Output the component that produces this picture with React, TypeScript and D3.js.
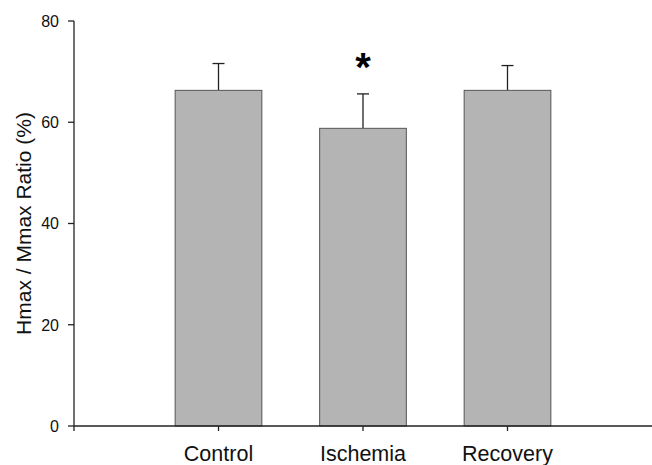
import React from "react";
import * as d3 from "d3";

const categories = ["Control", "Ischemia", "Recovery"];
const means = [66.3, 58.8, 66.3];
const errors = [5.3, 6.8, 4.9];
const significant = [false, true, false];
const yTicks = [0, 20, 40, 60, 80];

const W = 652;
const H = 465;
const margin = { top: 21, right: 0, bottom: 39, left: 74 };

export default function App() {
  const x = d3.scaleLinear().domain([0, 4]).range([margin.left, W - margin.right]);
  const y = d3.scaleLinear().domain([0, 80]).range([H - margin.bottom, margin.top]);
  const barW = x(0.6) - x(0);
  const capW = 12;
  const font = "'Liberation Sans', Arial, sans-serif";

  return (
    <svg width={W} height={H} style={{ position: "absolute", left: 0, top: 0, background: "#fff" }}>
      {categories.map((c, i) => {
        const cx = x(i + 1);
        const top = y(means[i] + errors[i]);
        return (
          <g key={c}>
            <line x1={cx} x2={cx} y1={y(means[i])} y2={top} stroke="#222" strokeWidth={1.3} />
            <line x1={cx - capW / 2} x2={cx + capW / 2} y1={top} y2={top} stroke="#222" strokeWidth={1.3} />
            <rect
              x={cx - barW / 2}
              y={y(means[i])}
              width={barW}
              height={y(0) - y(means[i])}
              fill="#b4b4b4"
              stroke="#555"
              strokeWidth={1}
            />
            {significant[i] && (
              <text x={cx} y={top - 13} textAnchor="middle" fontFamily={font} fontWeight="bold" fontSize={40}>
                *
              </text>
            )}
            <line x1={cx} x2={cx} y1={y(0)} y2={y(0) + 5} stroke="#222" strokeWidth={1.3} />
            <text x={cx} y={461} textAnchor="middle" fontFamily={font} fontSize={21.5} fill="#111">
              {c}
            </text>
          </g>
        );
      })}
      {/* y axis */}
      <line x1={margin.left} x2={margin.left} y1={y(80)} y2={y(0) + 5} stroke="#222" strokeWidth={1.3} />
      {yTicks.map((t) => (
        <g key={t}>
          <line x1={margin.left - 6} x2={margin.left} y1={y(t)} y2={y(t)} stroke="#222" strokeWidth={1.3} />
          <text x={margin.left - 15} y={y(t)} dy="0.36em" textAnchor="end" fontFamily={font} fontSize={16} fill="#111">
            {t}
          </text>
        </g>
      ))}
      {/* x axis */}
      <line x1={margin.left} x2={W} y1={y(0)} y2={y(0)} stroke="#222" strokeWidth={1.3} />
      <text
        transform={`translate(31,${(y(0) + y(80)) / 2}) rotate(-90)`}
        textAnchor="middle"
        fontFamily={font}
        fontSize={21}
        fill="#111"
      >
        Hmax / Mmax Ratio (%)
      </text>
    </svg>
  );
}
